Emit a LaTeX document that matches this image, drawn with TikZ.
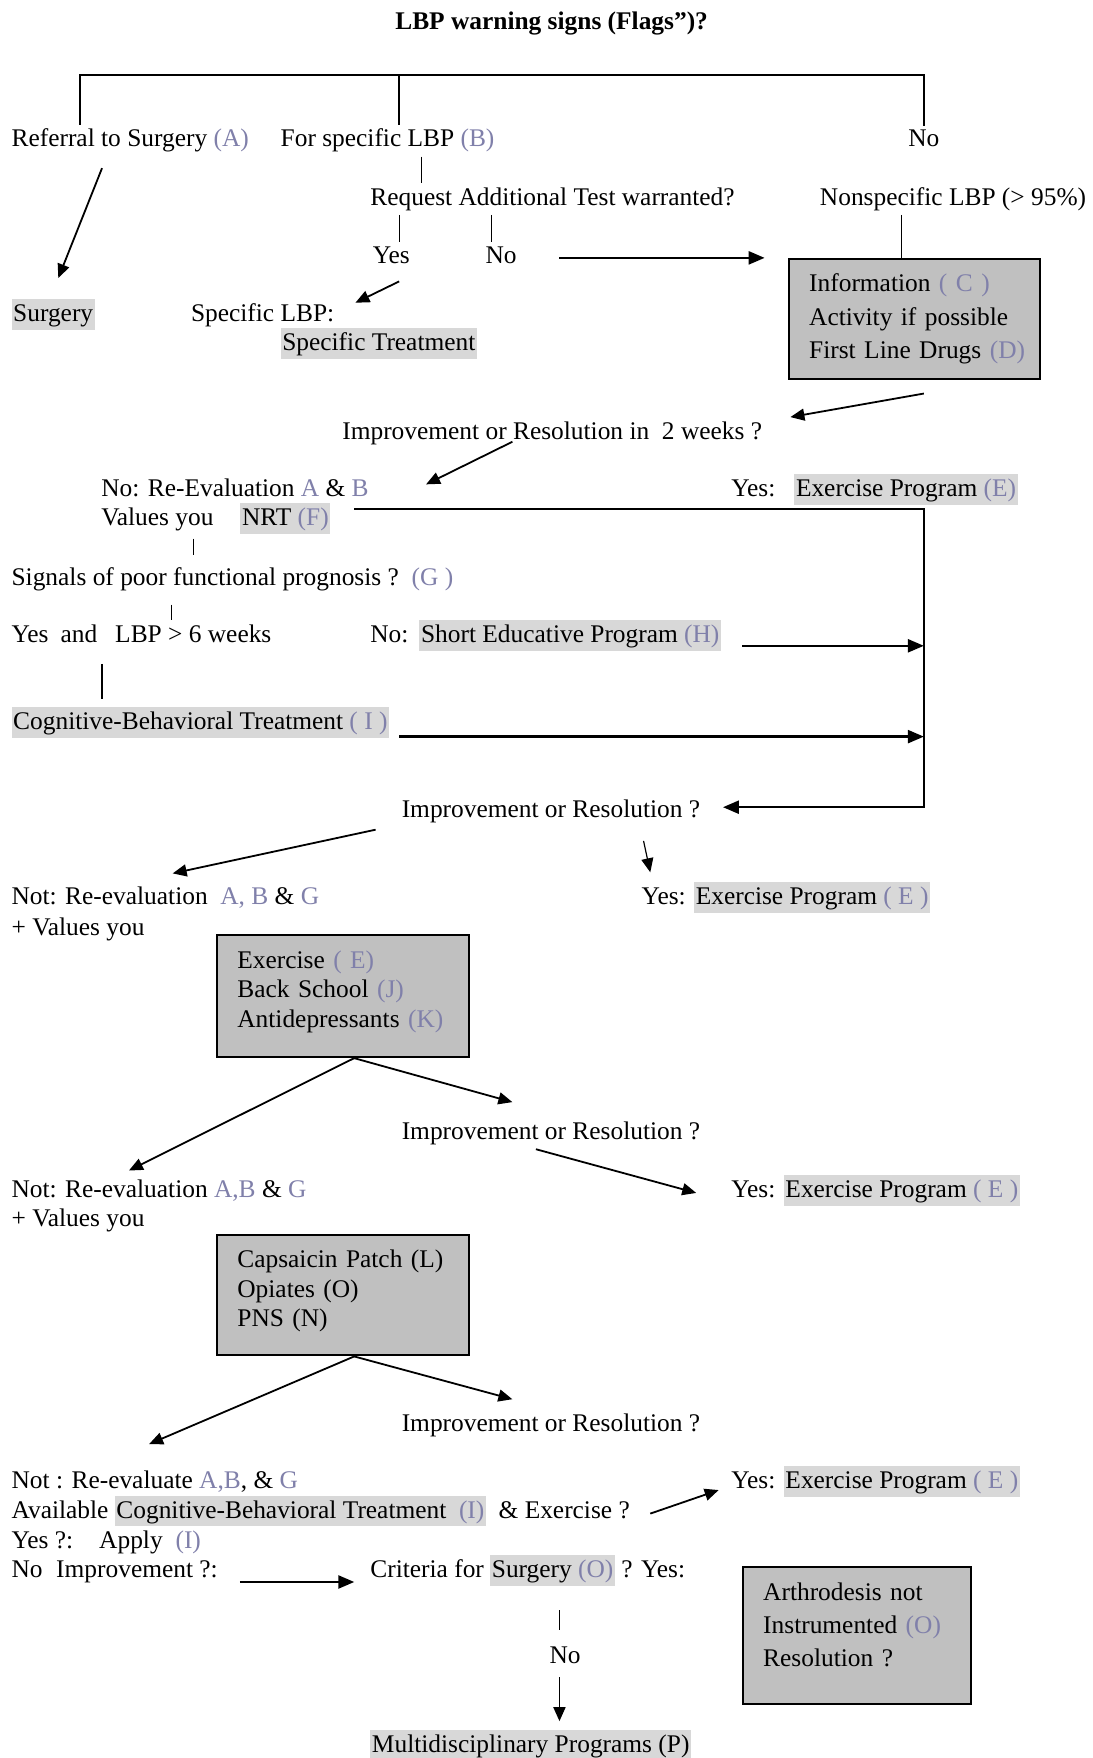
\documentclass[tikz,border=0pt]{standalone}
\usepackage{fontspec}
\setmainfont{Liberation Serif}
\usetikzlibrary{arrows.meta}

\definecolor{flagblue}{RGB}{128,128,170}
\definecolor{hlgray}{RGB}{216,216,216}
\definecolor{boxgray}{RGB}{192,192,192}
\newcommand{\flag}[1]{\textcolor{flagblue}{#1}}
\newcommand{\hlt}[1]{{\setlength{\fboxsep}{0.8pt}\colorbox{hlgray}{\rule[-3.4pt]{0pt}{13.8pt}#1}}}

\begin{document}
\begin{tikzpicture}[x=0.5606pt, y=-0.5606pt,
  every node/.style={font=\fontsize{12.7}{15}\selectfont},
  txt/.style={anchor=base west, inner xsep=0pt, inner ysep=2pt, yshift=-1.1pt},
  mid/.style={anchor=base, inner xsep=0pt, inner ysep=2pt, yshift=-1.1pt},
  bx/.style={draw, line width=1pt, fill=boxgray, anchor=north west, align=left, inner xsep=10pt},
  tk/.style={line width=0.5pt},
  arr/.style={line width=0.9pt, -{Triangle[length=7pt,width=6pt]}},
  harr/.style={line width=1.2pt, -{Triangle[length=8pt,width=6.5pt]}}]
\path[use as bounding box, fill=white] (0,0) rectangle (974,1568);

% top
\node[mid, font=\fontsize{12.7}{15}\selectfont\bfseries] (title) at (492,24) {LBP warning signs (Flags”)?};
\node[txt] (refA) at (10,129) {Referral to Surgery \flag{(A)}};
\node[txt] (specB) at (250,129) {For specific LBP \flag{(B)}};
\node[mid] (noTop) at (824,129) {No};
\node[txt] (request) at (330,181) {Request Additional Test warranted?};
\node[txt] (nonspec) at (731,181) {Nonspecific LBP (> 95\%)};
\node[mid] (yes1) at (349,233) {Yes};
\node[mid] (no1) at (447,233) {No};
\node[txt] (surgery) at (10,285) {\hlt{Surgery}};
\node[txt] (specLBP) at (170,285) {Specific LBP:};
\node[txt] (specTreat) at (250,311) {\hlt{Specific Treatment}};
\node[bx, text width=105.6pt, minimum height=60pt, font=\fontsize{12.7}{16.8}\selectfont] (boxC) at (703,230)
  {Information~\flag{(~C~)}\\ Activity~if~possible\\ First~Line~Drugs~\flag{(D)}};

% first two weeks
\node[txt] (impr2w) at (305,390) {Improvement or Resolution in~~2 weeks ?};
\node[txt] (noReeval) at (90,441) {No: Re-Evaluation \flag{A} \& \flag{B}};
\node[txt] (yesEx1) at (652,441) {Yes:\hspace{9.5pt}\hlt{Exercise Program \flag{(E)}}};
\node[txt] (values1) at (90,467) {Values you\hspace{13.5pt}\hlt{NRT \flag{(F)}}};
\node[txt] (signals) at (10,520) {Signals of poor functional prognosis ?~~\flag{(G )}};
\node[txt] (yes6) at (10,571) {Yes\hspace{6pt}and\hspace{9pt}LBP > 6 weeks};
\node[txt] (noShort) at (330,571) {No:\hspace{5.5pt}\hlt{Short Educative Program \flag{(H)}}};
\node[txt] (cbt) at (10,649) {\hlt{Cognitive-Behavioral Treatment \flag{( I )}}};
\node[txt] (impr1) at (358,727) {Improvement or Resolution ?};
\node[txt] (not1) at (10,805) {Not: Re-evaluation~~\flag{A, B} \& \flag{G}};
\node[txt] (plus1) at (10,832) {+ Values you};
\node[txt] (yesEx2) at (572,805) {Yes: \hlt{Exercise Program \flag{( E )}}};
\node[bx, text width=105.6pt, minimum height=61.1pt, font=\fontsize{12.7}{14.6}\selectfont] (boxE) at (193,833)
  {Exercise~\flag{(~E)}\\ Back~School~\flag{(J)}\\ Antidepressants~\flag{(K)}\rule[-7pt]{0pt}{0pt}};

% second round
\node[txt] (impr2) at (358,1014) {Improvement or Resolution ?};
\node[txt] (not2) at (10,1066) {Not: Re-evaluation \flag{A,B} \& \flag{G}};
\node[txt] (plus2) at (10,1092) {+ Values you};
\node[txt] (yesEx3) at (652,1066) {Yes: \hlt{Exercise Program \flag{( E )}}};
\node[bx, text width=105.6pt, minimum height=60pt, font=\fontsize{12.7}{14.8}\selectfont] (boxL) at (193,1101)
  {Capsaicin~Patch~(L)\\ Opiates~(O)\\ PNS~(N)\rule[-7pt]{0pt}{0pt}};

% last round
\node[txt] (impr3) at (358,1275) {Improvement or Resolution ?};
\node[txt] (not3) at (10,1326) {Not : Re-evaluate \flag{A,B}, \& \flag{G}};
\node[txt] (yesEx4) at (652,1326) {Yes: \hlt{Exercise Program \flag{( E )}}};
\node[txt] (avail) at (10,1352) {Available \hlt{Cognitive-Behavioral Treatment~~\flag{(I)}}~~\& Exercise ?};
\node[txt] (yesApply) at (10,1379) {Yes ?:\hspace{13pt}Apply\hspace{6.4pt}\flag{(I)}};
\node[txt] (noImpr) at (10,1405) {No\hspace{6.8pt}Improvement ?:};
\node[txt] (criteria) at (330,1405) {Criteria for \hlt{Surgery \flag{(O)}} ? Yes:};
\node[mid] (noBot) at (504,1482) {No};
\node[txt] (multi) at (330,1561) {\hlt{Multidisciplinary Programs (P)}};
\node[bx, text width=93.8pt, minimum height=68.4pt, font=\fontsize{12.7}{16.3}\selectfont] (boxArt) at (662,1397)
  {Arthrodesis~not\\ Instrumented~\flag{(O)}\\ Resolution~?\rule[-11pt]{0pt}{0pt}};

% bracket and ticks
\coordinate (brA) at (71,67);
\coordinate (brB) at (356,67);
\coordinate (brC) at (824,67);
\draw[line width=0.9pt] (refA.north -| brA) -- (brA) -- (brC) -- (noTop.north -| brC);
\draw[line width=0.9pt] (specB.north -| brB) -- (brB);
\coordinate (tkB) at (376,0);
\coordinate (tkY) at (356,0);
\coordinate (tkN) at (438,0);
\coordinate (tkS) at (804,0);
\draw[tk] (specB.south -| tkB) -- (request.north -| tkB);
\draw[tk] (request.south -| tkY) -- (yes1.north -| tkY);
\draw[tk] (request.south -| tkN) -- (no1.north -| tkN);
\draw[tk] (nonspec.south -| tkS) -- (boxC.north -| tkS);

% arrows, upper part
\coordinate (noS) at (499,230);
\coordinate (noE) at (682,230);
\draw[harr] (noS) -- (noE);
\coordinate (refS) at (91,150);
\coordinate (refE) at (52,248);
\draw[arr] (refS) -- (refE);
\coordinate (yesS) at (356,251);
\coordinate (yesE) at (317,270);
\draw[arr] (yesS) -- (yesE);
\coordinate (cS) at (824,351);
\coordinate (cE) at (705,372);
\draw[arr] (cS) -- (cE);
\coordinate (wS) at (457,394);
\coordinate (wE) at (380,432);
\draw[arr] (wS) -- (wE);

% right return line
\coordinate (rs) at (316,454);
\coordinate (rc) at (824,454);
\draw[harr, shorten >=11.2pt] (rs) -- (rc) |- ([yshift=2pt]impr1.east);
\coordinate (hA) at (662,576);
\coordinate (hB) at (356,657);
\draw[harr] (hA) -- (hA -| rc);
\draw[harr] (hB) -- (hB -| rc);

\coordinate (tkF) at (173,0);
\coordinate (tkG) at (153,0);
\coordinate (tkI) at (91,0);
\draw[tk, shorten >=4pt] (values1.south -| tkF) -- (signals.north -| tkF);
\draw[tk, shorten <=4.8pt] (signals.south -| tkG) -- (yes6.north -| tkG);
\draw[line width=0.7pt, shorten <=8.4pt, shorten >=2pt] (yes6.south -| tkI) -- (cbt.north -| tkI);

% arrows, lower part
\coordinate (i1S) at (335,740);
\coordinate (i1E) at (154,779);
\draw[arr] (i1S) -- (i1E);
\coordinate (y1S) at (574,750);
\coordinate (y1E) at (580,778);
\draw[arr, line width=0.6pt] (y1S) -- (y1E);
\coordinate (b2L) at (115,1044);
\coordinate (b2R) at (457,983);
\draw[arr] ([xshift=5.6pt]boxE.south) -- (b2L);
\draw[arr] ([xshift=5.6pt]boxE.south) -- (b2R);
\coordinate (i2S) at (478,1025);
\coordinate (i2E) at (621,1064);
\draw[arr] (i2S) -- (i2E);
\coordinate (b3L) at (133,1288);
\coordinate (b3R) at (457,1248);
\draw[arr] ([xshift=5.6pt]boxL.south) -- (b3L);
\draw[arr] ([xshift=5.6pt]boxL.south) -- (b3R);
\coordinate (exS) at (580,1350);
\coordinate (exE) at (641,1329);
\draw[arr] (exS) -- (exE);
\coordinate (niS) at (214,1411);
\coordinate (niE) at (316,1411);
\draw[harr] (niS) -- (niE);
\coordinate (tkO) at (499,0);
\draw[tk, shorten <=10pt, shorten >=6.2pt] (criteria.south -| tkO) -- (noBot.north -| tkO);
\draw[arr, shorten <=4.5pt, shorten >=2.2pt] (noBot.south -| tkO) -- (multi.north -| tkO);
\end{tikzpicture}
\end{document}
